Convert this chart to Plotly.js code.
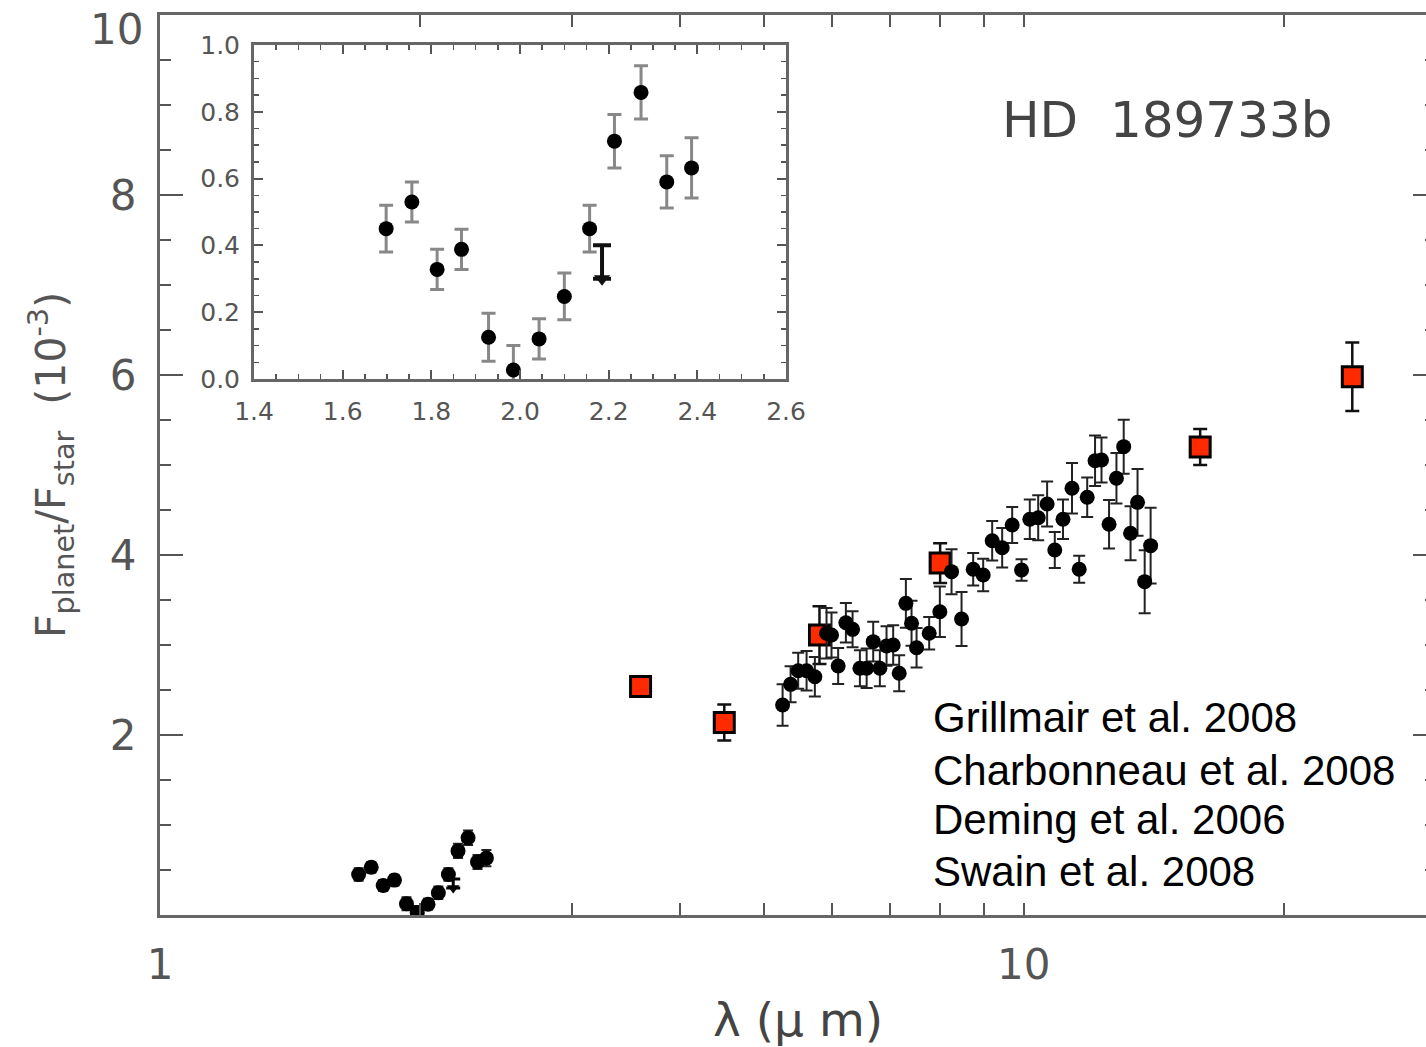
<!DOCTYPE html>
<html>
<head>
<meta charset="utf-8">
<script src="https://cdn.plot.ly/plotly-3.0.1.min.js"></script>
<style>
html,body{margin:0;padding:0;overflow:hidden;background:#fff;}
#chart{width:1450px;height:1047px;}
</style>
</head>
<body>
<div id="chart"></div>
<script>
// Swain et al. 2008 (near-IR spectrum), flux ratio in units of 1e-3
const nirWl   = [1.698, 1.756, 1.813, 1.868, 1.929, 1.985, 2.043, 2.100, 2.157, 2.213, 2.273, 2.331, 2.387];
const nirFlux = [0.450, 0.530, 0.328, 0.388, 0.125, 0.027, 0.120, 0.247, 0.450, 0.712, 0.858, 0.590, 0.632];
const nirErr  = [0.070, 0.060, 0.060, 0.060, 0.072, 0.073, 0.060, 0.070, 0.070, 0.080, 0.080, 0.078, 0.090];
// upper limit
const limWl   = [2.185];
const limFlux = [0.40];
const limLen  = [0.10];

// Charbonneau et al. 2008 / Deming et al. 2006 photometry
const photWl   = [3.6, 4.5, 5.8, 8.0, 16, 24];
const photFlux = [2.54, 2.14, 3.11, 3.91, 5.20, 5.98];
const photErr  = [0.10, 0.20, 0.32, 0.22, 0.20, 0.38];

// Grillmair et al. 2008 IRS spectrum
const irsWl = [5.257, 5.370, 5.480, 5.604, 5.729, 5.910, 5.989, 6.096, 6.223, 6.335,
               6.460, 6.577, 6.693, 6.813, 6.935, 7.059, 7.173, 7.302, 7.413, 7.513,
               7.770, 7.994, 8.247, 8.470, 8.737, 8.973, 9.191, 9.439, 9.694, 9.939,
               10.16, 10.39, 10.64, 10.86, 11.10, 11.37, 11.59, 11.84, 12.09, 12.30,
               12.55, 12.80, 13.05, 13.29, 13.54, 13.80, 14.02];
const irsFlux = [2.333, 2.563, 2.714, 2.714, 2.648, 3.130, 3.111, 2.767, 3.248, 3.174,
                 2.741, 2.741, 3.037, 2.741, 2.989, 3.000, 2.686, 3.463, 3.241, 2.970,
                 3.130, 3.370, 3.815, 3.289, 3.841, 3.778, 4.159, 4.081, 4.333, 3.833,
                 4.397, 4.414, 4.567, 4.056, 4.397, 4.741, 3.841, 4.641, 5.048, 5.056,
                 4.341, 4.852, 5.204, 4.241, 4.585, 3.704, 4.104];
const irsErr  = [0.23, 0.20, 0.20, 0.22, 0.22, 0.28, 0.25, 0.20, 0.22, 0.20,
                 0.20, 0.22, 0.22, 0.20, 0.22, 0.22, 0.20, 0.27, 0.25, 0.22,
                 0.18, 0.28, 0.25, 0.30, 0.18, 0.18, 0.22, 0.22, 0.20, 0.12,
                 0.22, 0.25, 0.25, 0.20, 0.22, 0.28, 0.15, 0.22, 0.28, 0.25,
                 0.27, 0.28, 0.30, 0.30, 0.37, 0.35, 0.42];

const xTickVals = [1, 10];
const xTickText = ['1', '10'];
const yTickVals = [2, 4, 6, 8];
const yTopTick = 10;   // top label, drawn inside the page
const legendLines = ['Grillmair et al. 2008', 'Charbonneau et al. 2008', 'Deming et al. 2006', 'Swain et al. 2008'];
const planetName = 'HD  189733b';

const limTip = limFlux.map((v, i) => v - limLen[i]);

const traces = [
  // photometry (red squares)
  {x: photWl, y: photFlux, type: 'scatter', mode: 'markers', xaxis: 'x', yaxis: 'y',
   marker: {symbol: 'square', size: 20, color: '#ff2a00', line: {color: '#000', width: 3}},
   error_y: {type: 'data', array: photErr, visible: true, color: '#111', thickness: 2.5, width: 7}},
  // IRS spectrum
  {x: irsWl, y: irsFlux, type: 'scatter', mode: 'markers', xaxis: 'x', yaxis: 'y',
   marker: {symbol: 'circle', size: 15, color: '#000'},
   error_y: {type: 'data', array: irsErr, visible: true, color: '#222', thickness: 2, width: 6}},
  // near-IR in main panel
  {x: nirWl, y: nirFlux, type: 'scatter', mode: 'markers', xaxis: 'x', yaxis: 'y',
   marker: {symbol: 'circle', size: 15, color: '#000'},
   error_y: {type: 'data', array: nirErr, visible: true, color: '#222', thickness: 2, width: 5}},
  {x: limWl, y: limFlux, type: 'scatter', mode: 'markers', xaxis: 'x', yaxis: 'y',
   marker: {size: 1, color: 'rgba(0,0,0,0)'},
   error_y: {type: 'data', symmetric: false, array: [0], arrayminus: limLen, visible: true, color: '#000', thickness: 3, width: 7}},
  {x: limWl, y: limTip, type: 'scatter', mode: 'markers', xaxis: 'x', yaxis: 'y',
   marker: {symbol: 'triangle-down', size: 11, color: '#000'}},
  // inset
  {x: nirWl, y: nirFlux, type: 'scatter', mode: 'markers', xaxis: 'x2', yaxis: 'y2',
   marker: {symbol: 'circle', size: 15, color: '#000'},
   error_y: {type: 'data', array: nirErr, visible: true, color: '#888', thickness: 3, width: 7}},
  {x: limWl, y: limFlux, type: 'scatter', mode: 'markers', xaxis: 'x2', yaxis: 'y2',
   marker: {size: 1, color: 'rgba(0,0,0,0)'},
   error_y: {type: 'data', symmetric: false, array: [0], arrayminus: limLen, visible: true, color: '#111', thickness: 4, width: 9}},
  {x: limWl, y: limTip, type: 'scatter', mode: 'markers', xaxis: 'x2', yaxis: 'y2',
   marker: {symbol: 'triangle-down', size: 14, color: '#111'}}
];

const axLine = '#666';
const tickCol = '#555';

const annotations = [
  {text: planetName, xref: 'paper', yref: 'paper', x: 0.6583, y: 0.8833, xanchor: 'left', yanchor: 'middle',
   showarrow: false, font: {family: 'DejaVu Sans', size: 50, color: '#444'}},
  {text: String(yTopTick), xref: 'paper', yref: 'y', x: -0.0118, y: yTopTick, xanchor: 'right', yanchor: 'top',
   yshift: 12, showarrow: false, font: {family: 'DejaVu Sans', size: 42, color: '#555'}}
];
const legY = [0.2189, 0.1611, 0.1056, 0.0478];
legendLines.forEach((t, i) => annotations.push({
  text: t, xref: 'paper', yref: 'paper', x: 0.604, y: legY[i], xanchor: 'left', yanchor: 'middle',
  showarrow: false, font: {family: 'Liberation Sans, Arial', size: 42, color: '#000'}
}));

const layout = {
  width: 1450, height: 1047,
  margin: {l: 160, r: 14, t: 15, b: 132},
  paper_bgcolor: '#fff', plot_bgcolor: '#fff',
  showlegend: false,
  font: {family: 'DejaVu Sans', color: '#444'},
  xaxis: {
    type: 'log', range: [0, Math.log10(30)],
    tickmode: 'array', tickvals: xTickVals, ticktext: xTickText,
    ticks: 'inside', ticklen: 12, tickwidth: 2, tickcolor: tickCol,
    showline: true, linecolor: axLine, linewidth: 3, mirror: 'ticks',
    showgrid: false, zeroline: false,
    tickfont: {size: 42, color: '#555'}, ticklabelstandoff: 11, ticklabeloverflow: 'allow',
    minor: {tickmode: 'array', tickvals: [2, 3, 4, 5, 6, 7, 8, 9, 20, 30], ticks: 'inside', ticklen: 12, tickwidth: 2, tickcolor: tickCol, showgrid: false},
    title: {text: 'λ (μ m)', font: {size: 47, color: '#444'}, standoff: 16}
  },
  yaxis: {
    range: [0, 10],
    tickmode: 'array', tickvals: yTickVals,
    ticks: 'inside', ticklen: 23, tickwidth: 2, tickcolor: tickCol,
    showline: true, linecolor: axLine, linewidth: 3, mirror: 'ticks',
    showgrid: false, zeroline: false,
    tickfont: {size: 42, color: '#555'}, ticklabelstandoff: 12,
    minor: {dtick: 0.5, tick0: 0, ticks: 'inside', ticklen: 11, tickwidth: 2, tickcolor: tickCol, showgrid: false},
    title: {text: 'F<sub>planet</sub>/F<sub>star</sub>  (10<sup>-3</sup>)', font: {size: 41, color: '#555'}, standoff: 32}
  },
  xaxis2: {
    domain: [0.0737, 0.4906], anchor: 'y2', range: [1.4, 2.6],
    tick0: 1.4, dtick: 0.2, tickformat: '.1f',
    ticks: 'inside', ticklen: 9, tickwidth: 2, tickcolor: tickCol,
    showline: true, linecolor: axLine, linewidth: 3, mirror: 'ticks',
    showgrid: false, zeroline: false,
    tickfont: {size: 25, color: '#555'}, ticklabelstandoff: 8, ticklabeloverflow: 'allow',
    minor: {dtick: 0.05, tick0: 1.4, ticks: 'inside', ticklen: 5, tickwidth: 1.5, tickcolor: tickCol, showgrid: false}
  },
  yaxis2: {
    domain: [0.5956, 0.9667], anchor: 'x2', range: [0, 1],
    tick0: 0, dtick: 0.2, tickformat: '.1f',
    ticks: 'inside', ticklen: 9, tickwidth: 2, tickcolor: tickCol,
    showline: true, linecolor: axLine, linewidth: 3, mirror: 'ticks',
    showgrid: false, zeroline: false,
    tickfont: {size: 25, color: '#555'}, ticklabelstandoff: 6, ticklabeloverflow: 'allow',
    minor: {dtick: 0.05, tick0: 0, ticks: 'inside', ticklen: 5, tickwidth: 1.5, tickcolor: tickCol, showgrid: false}
  },
  annotations: annotations
};

Plotly.newPlot('chart', traces, layout, {displayModeBar: false, staticPlot: true});
</script>
</body>
</html>
